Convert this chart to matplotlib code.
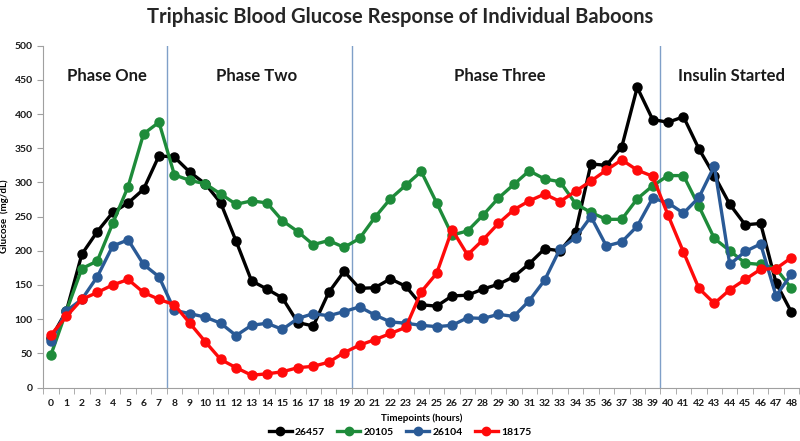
import matplotlib
matplotlib.use("Agg")
import matplotlib.pyplot as plt
from matplotlib.lines import Line2D

plt.rcParams['font.family'] = ['Lato', 'DejaVu Sans']

hours = list(range(49))
hour_labels = [str(h) for h in hours]

b26457 = [72, 112, 195, 228, 256, 270, 290, 339, 337, 315, 298, 270, 214, 156, 144, 131,
          95, 90, 139, 170, 145, 146, 159, 148, 121, 119, 134, 135, 144, 151, 162, 181,
          203, 200, 227, 327, 325, 352, 439, 392, 388, 396, 349, 310, 268, 238, 240, 153, 110]
b20105 = [48, 112, 174, 185, 240, 294, 371, 388, 311, 303, 298, 283, 268, 273, 270, 244,
          228, 209, 215, 205, 218, 249, 276, 296, 316, 270, 223, 229, 252, 277, 297, 317,
          305, 301, 269, 256, 246, 246, 276, 295, 310, 310, 265, 218, 200, 182, 180, 174, 145]
b26104 = [68, 112, 129, 162, 207, 216, 180, 162, 113, 108, 103, 94, 76, 91, 94, 85,
          101, 108, 105, 111, 118, 106, 96, 94, 91, 89, 91, 102, 101, 107, 104, 127,
          157, 203, 219, 250, 207, 213, 236, 277, 270, 255, 278, 324, 180, 199, 210, 134, 166]
b18175 = [77, 104, 129, 139, 150, 158, 139, 129, 121, 94, 67, 41, 29, 18, 20, 23,
          29, 31, 37, 51, 62, 70, 79, 88, 140, 167, 231, 194, 216, 240, 260, 273,
          283, 272, 287, 302, 318, 333, 318, 309, 252, 198, 145, 123, 143, 158, 173, 174, 190]

series_names = ['26457', '20105', '26104', '18175']
series_values = [b26457, b20105, b26104, b18175]
series_colors = ['#000000', '#1E8B3A', '#2A5A96', '#FF0A0A']

phase_bounds = [7.5, 19.5, 39.5]
phase_labels = ['Phase One', 'Phase Two', 'Phase Three', 'Insulin Started']
phase_centers = [3.6, 13.3, 29.1, 44.1]

fig = plt.figure(figsize=(8, 4.41), dpi=100)
ax = fig.add_axes([0.0541, 0.1213, 0.9449, 0.7751])

for name, vals, col in zip(series_names, series_values, series_colors):
    ax.plot(hours, vals, color=col, lw=2.4, marker='o', markersize=6.5, label=name, zorder=3)

for xb in phase_bounds:
    ax.axvline(xb, color='#7F9FC8', lw=1.0, zorder=1)

for lab, xc in zip(phase_labels, phase_centers):
    ax.text(xc, 455, lab, ha='center', va='center', fontsize=12, fontweight='bold', color='#1a1a1a')

ax.set_xlim(-0.5, 48.5)
ax.set_ylim(0, 500)
ax.set_yticks(range(0, 501, 50))
ax.set_xticks(hours)
ax.set_xticklabels(hour_labels)
ax.set_xticks([h - 0.5 for h in hours] + [48.5], minor=True)
ax.tick_params(axis='x', which='major', length=0, labelsize=7.5, pad=8, colors='#1a1a1a')
ax.tick_params(axis='x', which='minor', length=4, color='#A0A0A0', direction='out')
ax.tick_params(axis='y', length=4, color='#A0A0A0', labelsize=7.5, colors='#1a1a1a')
for lbl in ax.get_xticklabels() + ax.get_yticklabels():
    lbl.set_fontweight('bold')

for s in ['top', 'right']:
    ax.spines[s].set_visible(False)
for s in ['left', 'bottom']:
    ax.spines[s].set_color('#A0A0A0')

ax.set_ylabel('Glucose  (mg/dL)', fontsize=7, fontweight='bold')
ax.yaxis.set_label_coords(-0.046, 0.5)
ax.set_xlabel('Timepoints (hours)', fontsize=7, fontweight='bold', labelpad=4)

fig.suptitle('Triphasic Blood Glucose Response of Individual Baboons', x=0.5, y=0.985,
             fontsize=14.5, fontweight='bold', color='#262626')

handles = [Line2D([0], [0], color=c, lw=2.4, marker='o', markersize=6) for c in series_colors]
leg = fig.legend(handles, series_names, loc='center', bbox_to_anchor=(0.5, 0.02), ncol=4,
                 frameon=False, fontsize=7.5, handlelength=2.2, columnspacing=1.2, handletextpad=0.3)
for t in leg.get_texts():
    t.set_fontweight('bold')

fig.savefig('out.png', dpi=100)
